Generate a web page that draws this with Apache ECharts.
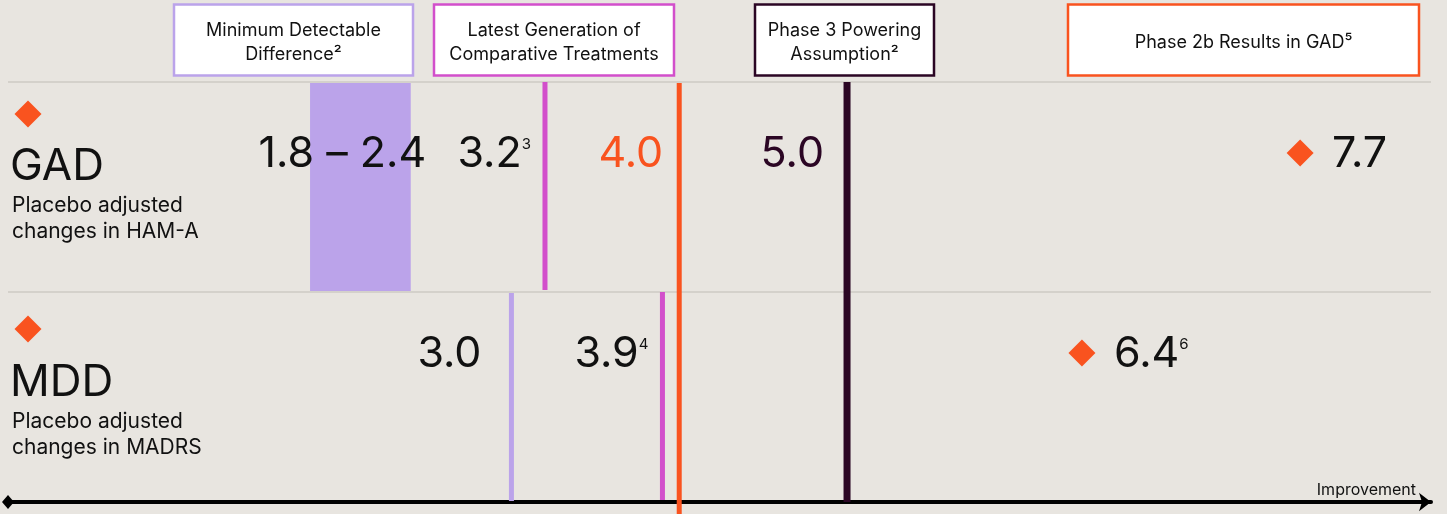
<!DOCTYPE html>
<html>
<head>
<meta charset="utf-8">
<script src="https://cdn.jsdelivr.net/npm/echarts@6/dist/echarts.min.js"></script>
<style>
  html, body { margin: 0; padding: 0; background: #E8E5E0; }
  #chart { width: 1447px; height: 514px; }
</style>
</head>
<body>
<div id="chart"></div>
<script>
// Rows, top to bottom
const ROWS = ['GAD', 'MDD'];
const ROW_NOTES = [
  ['Placebo adjusted', 'changes in HAM-A'],
  ['Placebo adjusted', 'changes in MADRS']
];

// Column headings (footnote markers as superscripts)
const HEADERS = [
  'Minimum Detectable\nDifference²',
  'Latest Generation of\nComparative Treatments',
  'Phase 3 Powering\nAssumption²',
  'Phase 2b Results in GAD⁵'
];

// Minimum detectable difference: a range for GAD, one value for MDD
const MIN_DETECT_GAD = [1.8, 2.4];
const MIN_DETECT_MDD = 3.0;

// Latest generation of comparative treatments, per row (GAD, MDD)
const LATEST_GEN = [3.2, 3.9];
const LATEST_GEN_NOTES = ['3', '4'];

// Threshold line running through both rows
const THRESHOLD = 4.0;

// Phase 3 powering assumption
const PHASE3 = 5.0;

// Phase 2b results, per row (GAD, MDD)
const PHASE2B = [7.7, 6.4];
const PHASE2B_NOTES = ['', '6'];

// ---- styling ----
const FONT = 'Inter, "Noto Sans", sans-serif';
const C = {
  bg: '#E8E5E0',
  lavender: '#BBA3EA',
  magenta: '#D24FCB',
  orange: '#F9531F',
  dark: '#2B0624',
  ink: '#111111',
  rule: '#CECAC4'
};
const LABEL_DY = [72, 62];   // row top -> value label centre (px)

function rowTop(api, r) { return api.coord([0, ROWS.length - r])[1]; }
function rowBottom(api, r) { return api.coord([0, ROWS.length - r - 1])[1]; }

function valueLabel(str, note, color, x, y, align) {
  return {
    type: 'text',
    x: x, y: y,
    style: {
      text: '{v|' + str + '}' + (note ? '{s|' + note + '}' : ''),
      align: align,
      verticalAlign: 'middle',
      rich: {
        v: { fontSize: 43, fontFamily: FONT, fill: color },
        s: { fontSize: 15, fontFamily: FONT, fill: color, verticalAlign: 'top', padding: [4, 0, 0, 0] }
      }
    }
  };
}

function vbar(cx, y0, y1, w, color) {
  return { type: 'rect', shape: { x: cx - w / 2, y: y0, width: w, height: y1 - y0 }, style: { fill: color } };
}

function diamond(cx, cy, r, color) {
  return { type: 'polygon', shape: { points: [[cx, cy - r], [cx + r, cy], [cx, cy + r], [cx - r, cy]] }, style: { fill: color } };
}

const fmt = v => v.toFixed(1);

// --- series ---
const minDetectSeries = {
  type: 'custom', name: 'Minimum Detectable Difference', clip: false, z: 3,
  data: [[MIN_DETECT_GAD[0], MIN_DETECT_GAD[1], 0], [MIN_DETECT_MDD, MIN_DETECT_MDD, 1]],
  encode: { x: [0, 1] },
  renderItem(params, api) {
    const from = api.value(0), to = api.value(1), r = api.value(2);
    const x0 = api.coord([from, 0])[0], x1 = api.coord([to, 0])[0];
    const top = rowTop(api, r), bot = rowBottom(api, r);
    const cx = (x0 + x1) / 2, w = Math.max(x1 - x0, 5);
    const ly = top + LABEL_DY[r];
    const children = [vbar(cx, top + 1, bot - 1, w, C.lavender)];
    if (to > from) children.push(valueLabel(fmt(from) + ' \u2013 ' + fmt(to), '', C.ink, cx - 18, ly, 'center'));
    else children.push(valueLabel(fmt(from), '', C.ink, x0 - 30, ly, 'right'));
    return { type: 'group', children };
  }
};

const latestGenSeries = {
  type: 'custom', name: 'Latest Generation of Comparative Treatments', clip: false, z: 3,
  data: LATEST_GEN.map((v, i) => [v, i]),
  encode: { x: 0 },
  renderItem(params, api) {
    const v = api.value(0), r = api.value(1);
    const x = api.coord([v, 0])[0];
    const top = rowTop(api, r), bot = rowBottom(api, r);
    return { type: 'group', children: [
      vbar(x, top, bot - 2, 5, C.magenta),
      valueLabel(fmt(v), LATEST_GEN_NOTES[r], C.ink, x - 14, top + LABEL_DY[r], 'right')
    ] };
  }
};

const thresholdSeries = {
  type: 'custom', name: 'Threshold', clip: false, z: 4,
  data: [[THRESHOLD]],
  encode: { x: 0 },
  renderItem(params, api) {
    const v = api.value(0);
    const x = api.coord([v, 0])[0];
    const top = api.coord([v, ROWS.length])[1];
    return { type: 'group', children: [
      vbar(x, top + 1, api.getHeight(), 5, C.orange),
      valueLabel(fmt(v), '', C.orange, x - 16, top + LABEL_DY[0], 'right')
    ] };
  }
};

const phase3Series = {
  type: 'custom', name: 'Phase 3 Powering Assumption', clip: false, z: 3,
  data: [[PHASE3]],
  encode: { x: 0 },
  renderItem(params, api) {
    const v = api.value(0);
    const x = api.coord([v, 0])[0];
    const top = api.coord([v, ROWS.length])[1], bot = api.coord([v, 0])[1];
    return { type: 'group', children: [
      vbar(x, top, bot, 7, C.dark),
      valueLabel(fmt(v), '', C.dark, x - 23, top + LABEL_DY[0], 'right')
    ] };
  }
};

const phase2bSeries = {
  type: 'custom', name: 'Phase 2b Results', clip: false, z: 3,
  data: PHASE2B.map((v, i) => [v, i]),
  encode: { x: 0 },
  renderItem(params, api) {
    const v = api.value(0), r = api.value(1);
    const x = api.coord([v, 0])[0];
    const y = rowTop(api, r) + LABEL_DY[r] - 1;
    return { type: 'group', children: [
      diamond(x, y, 13.5, C.orange),
      valueLabel(fmt(v), PHASE2B_NOTES[r], C.ink, x + 32, y + 1, 'left')
    ] };
  }
};

// --- headings and row titles ---
const HEADER_BOXES = [
  { x: 174, w: 239, stroke: C.lavender },
  { x: 434, w: 240, stroke: C.magenta },
  { x: 755, w: 179, stroke: C.dark },
  { x: 1068, w: 351, stroke: C.orange }
];
const graphics = [];
HEADERS.forEach((t, i) => {
  const b = HEADER_BOXES[i];
  graphics.push({
    type: 'rect', shape: { x: b.x, y: 4.5, width: b.w, height: 71 },
    style: { fill: '#FFFFFF', stroke: b.stroke, lineWidth: 2.5 }
  });
  graphics.push({
    type: 'text', x: b.x + b.w / 2, y: 42.5,
    style: { text: t, font: '18px ' + FONT, fill: C.ink, align: 'center', verticalAlign: 'middle', lineHeight: 23.5 }
  });
});

const ROW_TITLE_Y = [167, 383];
const ROW_MARK_Y = [114, 329];
ROWS.forEach((name, i) => {
  const p = ROW_MARK_Y[i];
  graphics.push({ type: 'polygon', shape: { points: [[28, p - 13.5], [41.5, p], [28, p + 13.5], [14.5, p]] }, style: { fill: C.orange } });
  graphics.push({ type: 'text', x: 10, y: ROW_TITLE_Y[i], style: { text: name, font: '44px ' + FONT, fill: C.ink, align: 'left', verticalAlign: 'middle' } });
  graphics.push({ type: 'text', x: 12, y: ROW_TITLE_Y[i] + 52, style: { text: ROW_NOTES[i].join('\n'), font: '21px ' + FONT, fill: C.ink, align: 'left', verticalAlign: 'middle', lineHeight: 26 } });
});

const chart = echarts.init(document.getElementById('chart'), null, { renderer: 'canvas' });
chart.setOption({
  backgroundColor: C.bg,
  animation: false,
  textStyle: { fontFamily: FONT },
  grid: { left: 8, right: 16, top: 82, bottom: 12 },
  xAxis: {
    type: 'value', min: 0, max: 8.48,
    axisLine: { show: true, symbol: ['diamond', 'arrow'], symbolSize: [14, 12], lineStyle: { color: '#000', width: 4 } },
    axisTick: { show: false }, axisLabel: { show: false }, splitLine: { show: false },
    name: 'Improvement', nameLocation: 'end', nameGap: -15,
    nameTextStyle: { fontSize: 16, fontFamily: FONT, color: C.ink, align: 'right', verticalAlign: 'bottom', padding: [0, 0, 4, 0] }
  },
  yAxis: {
    type: 'value', min: 0, max: ROWS.length, interval: 1,
    axisLine: { show: false }, axisTick: { show: false }, axisLabel: { show: false },
    splitLine: { show: true, lineStyle: { color: C.rule, width: 1.5 } }
  },
  graphic: { elements: graphics },
  series: [minDetectSeries, latestGenSeries, phase3Series, phase2bSeries, thresholdSeries]
});
</script>
</body>
</html>
